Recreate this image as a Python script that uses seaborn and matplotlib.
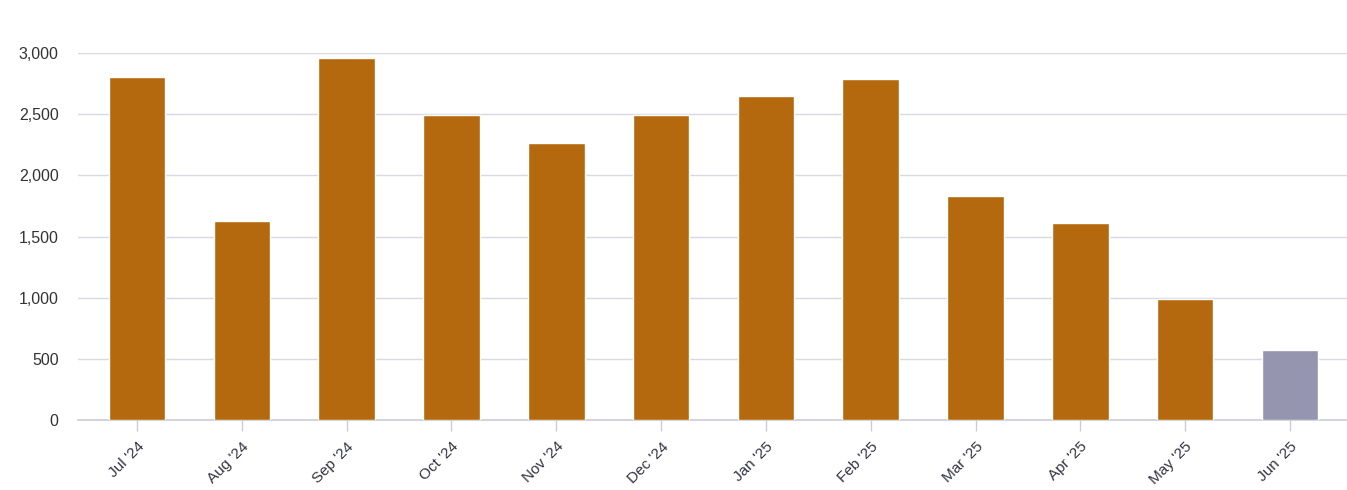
import matplotlib
matplotlib.use("Agg")
import matplotlib.pyplot as plt
import seaborn as sns
import pandas as pd
from matplotlib.ticker import FuncFormatter

months = ["Jul '24", "Aug '24", "Sep '24", "Oct '24", "Nov '24", "Dec '24",
          "Jan '25", "Feb '25", "Mar '25", "Apr '25", "May '25", "Jun '25"]
values = [2805, 1630, 2960, 2490, 2265, 2490, 2650, 2785, 1835, 1610, 990, 570]
bar_colors = ["#B5690E"] * 11 + ["#9595AF"]

sns.set_theme(style="white")
plt.rcParams['font.family'] = ['Liberation Sans', 'DejaVu Sans']

df = pd.DataFrame({"month": months, "value": values})

fig = plt.figure(figsize=(13.47, 4.90), dpi=100)
ax = fig.add_axes([78/1347, 1 - 420/490, (1347-78)/1347, (420-53)/490])

sns.barplot(data=df, x="month", y="value", hue="month", palette=bar_colors,
            width=0.54, legend=False, ax=ax, saturation=1, zorder=3)

ax.set_ylim(0, 3000)
ax.set_xlim(-0.563, 11.544)
ax.set_yticks([0, 500, 1000, 1500, 2000, 2500, 3000])
ax.yaxis.set_major_formatter(FuncFormatter(lambda v, p: f"{int(v):,}"))
ax.grid(axis="y", color="#D9D9E3", linewidth=1, zorder=0)
ax.grid(axis="x", visible=False)
for s in ["top", "right", "left"]:
    ax.spines[s].set_visible(False)
ax.spines["bottom"].set_color("#CCCCD8")
ax.spines["bottom"].set_linewidth(1.2)
ax.set_xlabel("")
ax.set_ylabel("")
ax.tick_params(axis="y", length=0, pad=14, labelsize=11.5, labelcolor="#333333")
ax.tick_params(axis="x", length=8, width=1, color="#CCCCD8", pad=6,
               labelsize=11, labelcolor="#333344", bottom=True)
for lab in ax.get_xticklabels():
    lab.set_rotation(45)
    lab.set_ha("right")
    lab.set_va("top")
    lab.set_rotation_mode("anchor")

fig.savefig("out.png", dpi=100)
